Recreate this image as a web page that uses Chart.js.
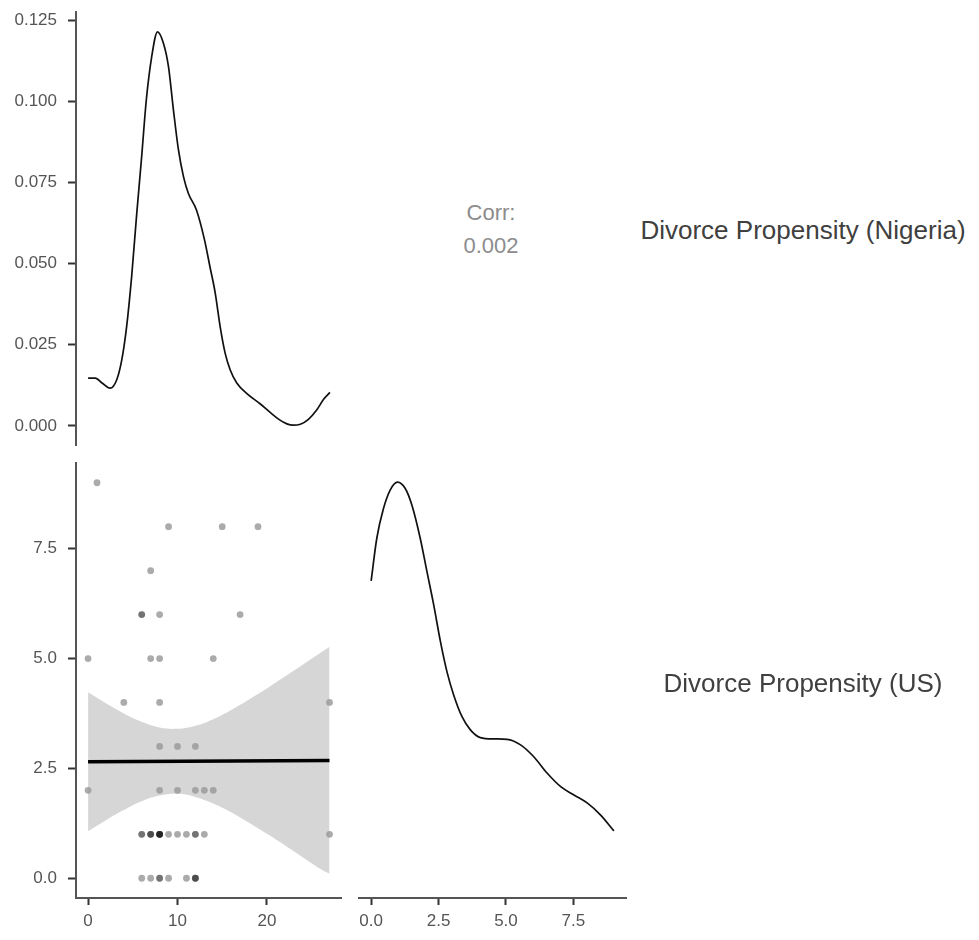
<!DOCTYPE html>
<html>
<head>
<meta charset="utf-8">
<script src="https://cdn.jsdelivr.net/npm/chart.js@4/dist/chart.umd.min.js"></script>
<style>
  html, body { margin: 0; padding: 0; background: #fff; }
  #wrap { position: relative; width: 979px; height: 940px; overflow: hidden; font-family: "Liberation Sans", Arial, sans-serif; }
  canvas { position: absolute; }
  .txt { position: absolute; white-space: nowrap; line-height: 1; }
</style>
</head>
<body>
<div id="wrap">
  <canvas id="tl" width="345" height="455" style="left:0;top:0"></canvas>
  <canvas id="bl" width="345" height="485" style="left:0;top:455px"></canvas>
  <canvas id="br" width="290" height="485" style="left:345px;top:455px"></canvas>
  <div class="txt" id="corrLab" style="font-size:22px;color:#8c8c8c;width:200px;left:391px;top:202px;text-align:center"></div>
  <div class="txt" id="corrVal" style="font-size:22px;color:#8c8c8c;width:200px;left:391px;top:235px;text-align:center"></div>
  <div class="txt" id="stripTop" style="font-size:26px;color:#404040;width:360px;left:623px;top:217px;text-align:center"></div>
  <div class="txt" id="stripBot" style="font-size:26px;color:#404040;width:360px;left:623px;top:670px;text-align:center"></div>
</div>
<script>
// ---- Data ----
const varNames = ["Divorce Propensity (Nigeria)", "Divorce Propensity (US)"];
const corrLabel = "Corr:";
const corrValue = "0.002";

// Density of Nigeria variable (top-left diagonal)
const nigX =       [0, 0.8, 1.6, 2.46, 3.2, 3.76, 4.3, 4.86, 5.42, 5.98, 6.5, 7.1, 7.75, 8.42, 8.98, 9.53, 10.09, 10.65, 11.2, 12.1, 13.0, 13.6, 14.19, 14.75, 15.3, 15.86, 16.6, 17.7, 19.2, 20.3, 21.3, 22.2, 22.9, 23.7, 24.6, 25.5, 26.3, 27.0];
const nigDensity = [0.0147, 0.0147, 0.0131, 0.0116, 0.0142, 0.0203, 0.0305, 0.0459, 0.065, 0.0829, 0.1004, 0.1137, 0.1214, 0.1178, 0.1106, 0.0973, 0.085, 0.0768, 0.0716, 0.0665, 0.0573, 0.0491, 0.041, 0.0305, 0.0224, 0.0173, 0.0132, 0.0100, 0.0068, 0.0042, 0.0020, 0.0006, 0.0002, 0.0005, 0.0020, 0.0048, 0.0082, 0.0103];

// Density of US variable (bottom-right diagonal)
const usX =       [0, 0.21, 0.46, 0.71, 0.98, 1.26, 1.51, 1.82, 2.07, 2.32, 2.57, 2.81, 3.06, 3.37, 3.68, 4.05, 4.55, 5.04, 5.54, 6.03, 6.53, 7.03, 7.52, 8.02, 8.51, 9.0];
const usDensity = [0.135, 0.1544, 0.168, 0.1764, 0.1799, 0.1771, 0.1695, 0.1544, 0.1392, 0.1241, 0.1074, 0.0938, 0.0832, 0.0733, 0.0673, 0.0638, 0.0632, 0.063, 0.0605, 0.0551, 0.0476, 0.0415, 0.0377, 0.034, 0.0286, 0.0214];

// Scatter points (x = Nigeria, y = US)
const ptNigeria = [1, 9, 15, 19, 7, 6, 6, 8, 17, 0, 7, 8, 14, 4, 8, 27, 8, 10, 12, 0, 8, 10, 12, 13, 14,
                   6, 6, 7, 7, 7, 8, 8, 8, 8, 8, 9, 10, 11, 12, 12, 13, 27,
                   6, 7, 8, 8, 9, 11, 12, 12, 12];
const ptUS =      [9, 8, 8, 8, 7, 6, 6, 6, 6, 5, 5, 5, 5, 4, 4, 4, 3, 3, 3, 2, 2, 2, 2, 2, 2,
                   1, 1, 1, 1, 1, 1, 1, 1, 1, 1, 1, 1, 1, 1, 1, 1, 1,
                   0, 0, 0, 0, 0, 0, 0, 0, 0];

// Linear fit and its confidence band
const fitX = [0, 27];
const fitY = [2.65, 2.68];
const bandX =     [0, 2, 4, 6, 8, 10, 12, 14, 16, 18, 20, 22, 24, 26, 27];
const bandUpper = [4.23, 3.98, 3.75, 3.56, 3.43, 3.40, 3.47, 3.62, 3.83, 4.07, 4.32, 4.59, 4.86, 5.13, 5.27];
const bandLower = [1.07, 1.32, 1.55, 1.75, 1.88, 1.92, 1.85, 1.70, 1.50, 1.26, 1.01, 0.75, 0.48, 0.21, 0.10];

// Tick values
const nigDensTicks = [0, 0.025, 0.05, 0.075, 0.1, 0.125];
const nigTicks = [0, 10, 20];
const usTicks = [0, 2.5, 5, 7.5];

// ---- Text ----
document.getElementById('corrLab').textContent = corrLabel;
document.getElementById('corrVal').textContent = corrValue;
document.getElementById('stripTop').textContent = varNames[0];
document.getElementById('stripBot').textContent = varNames[1];

// ---- Styles ----
const FONT = { family: '"Liberation Sans", Arial, sans-serif', size: 17 };
const TICK_COLOR = '#555555';
const AXIS_COLOR = '#555555';
const pts = (xs, ys) => xs.map((x, i) => ({ x: x, y: ys[i] }));
const setTicks = arr => scale => { scale.ticks = arr.map(v => ({ value: v })); };

function axisY(min, max, tickVals, fmt) {
  return {
    type: 'linear', min: min, max: max,
    afterBuildTicks: setTicks(tickVals),
    afterFit: s => { s.width = 76; s.paddingTop = 0; s.paddingBottom = 0; },
    ticks: { font: FONT, color: TICK_COLOR, padding: 11, callback: fmt },
    grid: { display: true, drawOnChartArea: false, drawTicks: true, tickLength: 8, tickColor: '#333', tickWidth: 2 },
    border: { display: true, color: AXIS_COLOR, width: 2 }
  };
}
function axisX(min, max, tickVals, fmt) {
  return {
    type: 'linear', min: min, max: max,
    afterBuildTicks: setTicks(tickVals),
    afterFit: s => { s.height = 42; s.paddingLeft = 0; s.paddingRight = 0; },
    ticks: { font: FONT, color: TICK_COLOR, padding: 6, maxRotation: 0, callback: fmt },
    grid: { display: true, drawOnChartArea: false, drawTicks: true, tickLength: 7, tickColor: '#333', tickWidth: 2 },
    border: { display: true, color: AXIS_COLOR, width: 2 }
  };
}
const basePlugins = { legend: { display: false }, tooltip: { enabled: false } };

// ---- Top-left: density of Nigeria ----
new Chart(document.getElementById('tl'), {
  type: 'line',
  data: { datasets: [{
    data: pts(nigX, nigDensity), borderColor: '#111', borderWidth: 1.7,
    pointRadius: 0, cubicInterpolationMode: 'monotone', fill: false
  }]},
  options: {
    responsive: false, animation: false,
    layout: { padding: { top: 12, bottom: 10, right: 3, left: 0 } },
    plugins: basePlugins,
    scales: {
      x: { type: 'linear', min: -1.35, max: 28.35, display: false },
      y: axisY(-0.0059, 0.1275, nigDensTicks, v => Number(v).toFixed(3))
    }
  }
});

// ---- Bottom-left: scatter + lm ----
new Chart(document.getElementById('bl'), {
  type: 'line',
  data: { datasets: [
    { type: 'scatter', data: pts(ptNigeria, ptUS), backgroundColor: 'rgba(0,0,0,0.33)',
      borderWidth: 0, pointRadius: 3.4, pointHoverRadius: 3.4, order: 3 },
    { data: pts(bandX, bandLower), borderWidth: 0, borderColor: 'rgba(0,0,0,0)', pointRadius: 0,
      fill: false, tension: 0.4, order: 2 },
    { data: pts(bandX, bandUpper), borderWidth: 0, borderColor: 'rgba(0,0,0,0)', pointRadius: 0,
      fill: '-1', backgroundColor: 'rgba(153,153,153,0.4)', tension: 0.4, order: 2 },
    { data: pts(fitX, fitY), borderColor: '#000', borderWidth: 3.6, pointRadius: 0, fill: false, order: 0 }
  ]},
  options: {
    responsive: false, animation: false,
    layout: { padding: { top: 8, bottom: 0, right: 3, left: 0 } },
    plugins: basePlugins,
    scales: {
      x: axisX(-1.35, 28.35, nigTicks, v => String(v)),
      y: axisY(-0.45, 9.45, usTicks, v => Number(v).toFixed(1))
    }
  }
});

// ---- Bottom-right: density of US ----
new Chart(document.getElementById('br'), {
  type: 'line',
  data: { datasets: [{
    data: pts(usX, usDensity), borderColor: '#111', borderWidth: 1.7,
    pointRadius: 0, cubicInterpolationMode: 'monotone', fill: false
  }]},
  options: {
    responsive: false, animation: false,
    layout: { padding: { top: 8, bottom: 0, right: 9, left: 14 } },
    plugins: basePlugins,
    scales: {
      x: axisX(-0.45, 9.45, usTicks, v => Number(v).toFixed(1)),
      y: { type: 'linear', min: -0.0091, max: 0.1886, display: false }
    }
  }
});
</script>
</body>
</html>
